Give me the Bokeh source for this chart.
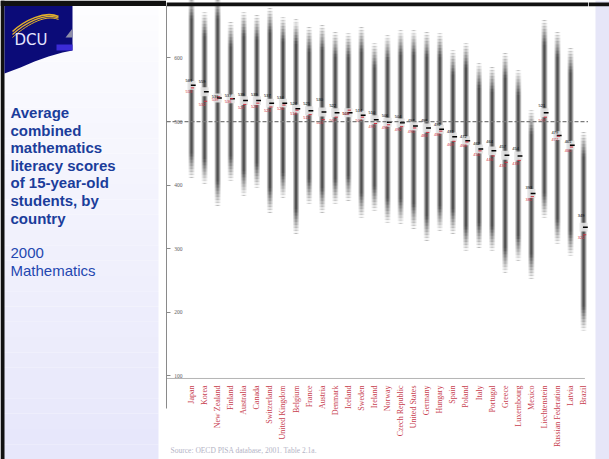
import numpy as np
from bokeh.plotting import figure
from bokeh.layouts import row
from bokeh.models import Range1d, FixedTicker, Span
from bokeh.embed import file_html
from bokeh.resources import INLINE
from bokeh.core.properties import value

# ---------------- data ----------------
countries = ["Japan", "Korea", "New Zealand", "Finland", "Australia", "Canada",
             "Switzerland", "United Kingdom", "Belgium", "France", "Austria",
             "Denmark", "Iceland", "Sweden", "Ireland", "Norway", "Czech Republic",
             "United States", "Germany", "Hungary", "Spain", "Poland", "Italy",
             "Portugal", "Greece", "Luxembourg", "Mexico", "Liechtenstein",
             "Russian Federation", "Latvia", "Brazil"]
mean_score = [557, 547, 537, 536, 533, 533, 529, 529, 520, 517, 515, 514, 514, 510,
              503, 499, 498, 493, 490, 488, 476, 470, 457, 454, 447, 446, 387, 514,
              478, 463, 334]
male_score = [561, 559, 536, 537, 539, 539, 537, 534, 524, 525, 530, 522, 508, 514,
              510, 506, 504, 497, 498, 492, 481, 472, 462, 464, 457, 454, 393, 521,
              479, 465, 349]
female_score = [553, 532, 539, 536, 527, 529, 523, 526, 518, 511, 503, 507, 518, 507,
                497, 495, 492, 490, 483, 485, 469, 468, 454, 446, 436, 439, 382, 507,
                477, 460, 322]
bar_top = [700, 672, 700, 656, 672, 667, 678, 664, 660, 648, 651, 640, 639, 648,
           623, 635, 643, 643, 640, 639, 612, 623, 591, 585, 607, 580, 518, 659,
           640, 615, 483]
bar_bottom = [412, 403, 368, 407, 384, 396, 357, 381, 324, 371, 357, 371, 376, 349,
              360, 341, 340, 332, 313, 329, 324, 297, 302, 297, 263, 282, 253, 349,
              308, 289, 171]
y_ticks = [100, 200, 300, 400, 500, 600]
reference_score = 500
title_lines = ["Average", "combined", "mathematics", "literacy scores",
               "of 15-year-old", "students, by", "country"]
sub_lines = ["2000", "Mathematics"]
source_text = "Source: OECD PISA database, 2001. Table 2.1a."

W, H = 609, 459
Y_TOP, Y_BOTTOM = 690.4, -31.3      # score range over the full height
X0, X1 = -1.913, 30.375              # category-index range over the frame
Y_AXIS_LINE = 96.1                   # score at the x-axis line
PX = H / (Y_TOP - Y_BOTTOM)          # px per score unit


def sy(py):
    """page y pixel -> score (for decoration only)"""
    return Y_TOP - py / PX


# ---------------- left panel ----------------
LW = 166
left = figure(width=LW, height=H, x_range=Range1d(0, LW), y_range=Range1d(H, 0),
              output_backend="svg", toolbar_location=None, min_border=0)
left.axis.visible = False
left.grid.visible = False
left.outline_line_color = None
left.background_fill_color = "white"
left.border_fill_color = "white"

nb = 30
edges = np.linspace(0, H, nb + 1)
cols = []
for k in range(nb):
    t = k / (nb - 1)
    cols.append("#%02x%02x%02x" % (int(253 - 22 * t), int(253 - 22 * t), int(255 - 4 * t)))
left.quad(left=[0] * nb, right=[158] * nb, top=list(edges[:-1]), bottom=list(edges[1:]),
          fill_color=cols, line_color=None)
# black frame of the slide
left.quad(left=[0], right=[4], top=[0], bottom=[H], fill_color="#111111", line_color=None)
left.quad(left=[0], right=[LW], top=[0], bottom=[5.5], fill_color="#111111", line_color=None)

# DCU logo
left.patch(x=[4, 72, 72, 62, 48, 34, 20, 4], y=[5.5, 5.5, 50, 52, 56, 61, 67, 73],
           fill_color="#0b0b78", line_color=None)
left.quad(left=[56], right=[72], top=[44], bottom=[50], fill_color="#3b2bd6", line_color=None)
left.patch(x=[65, 72, 72], y=[37, 28, 37], fill_color="#8e8ea8", line_color=None)
for dy, w in [(0, 1.6), (3, 1.2), (6, 1.0)]:
    left.bezier(x0=[12], y0=[31 + dy], x1=[58], y1=[16 + dy * 0.5],
                cx0=[24], cy0=[20 + dy], cx1=[44], cy1=[10 + dy * 0.5],
                line_color="#e2b02c", line_width=w)
left.text(x=[14], y=[39], text=["DCU"], text_font=value("DejaVu Sans"),
          text_font_size="15px", text_color="#e6e6ff", text_baseline="middle")

ty = [112 + 17.6 * k for k in range(len(title_lines))]
left.text(x=[10] * len(title_lines), y=ty, text=title_lines,
          text_font=value("Liberation Sans"), text_font_style="bold",
          text_font_size="15px", text_color="#1b3d9b", text_baseline="middle")
sy_lines = [112 + 17.6 * (len(title_lines) + 1 + k) for k in range(len(sub_lines))]
left.text(x=[10] * len(sub_lines), y=sy_lines, text=sub_lines,
          text_font=value("Liberation Sans"), text_font_size="15px",
          text_color="#2447b0", text_baseline="middle")

# ---------------- chart ----------------
n = len(countries)
xs = list(range(n))
CW = 422
p = figure(width=CW, height=H, x_range=Range1d(X0, X1), y_range=Range1d(Y_BOTTOM, Y_TOP),
           output_backend="svg", toolbar_location=None, min_border=0)
p.grid.visible = False
p.xaxis.visible = False
p.outline_line_color = None
p.background_fill_color = "white"
p.border_fill_color = "white"

# gray distribution bars
for lw, c in [(6, "#c2c2c2"), (4, "#868686"), (2, "#505050")]:
    p.segment(x0=xs, y0=bar_bottom, x1=xs, y1=bar_top, line_width=lw, line_color=c)

# fading ends
F = 38.0
steps = 8
fx, fy0, fy1, fa = [], [], [], []
for i in range(n):
    for k in range(steps):
        a = 1 - (k + 0.5) / steps
        fx.append(i); fy0.append(bar_bottom[i] + k * F / steps)
        fy1.append(bar_bottom[i] + (k + 1) * F / steps); fa.append(a)
        fx.append(i); fy0.append(bar_top[i] - (k + 1) * F / steps)
        fy1.append(bar_top[i] - k * F / steps); fa.append(a)
p.segment(x0=fx, y0=fy0, x1=fx, y1=fy1, line_width=8, line_color="white", line_alpha=fa,
          line_cap="butt")

# slide frame top band
p.quad(left=[X0], right=[X1], top=[sy(2)], bottom=[sy(5.8)], fill_color="#111111", line_color=None)

# 500 reference line
p.add_layout(Span(location=reference_score, dimension="width", line_color="#7a7a7a",
                  line_dash="4 2", line_width=1.3))

# mean markers
p.rect(x=xs, y=mean_score, width=0.62, height=14, fill_color="#e4e4e4", fill_alpha=0.9,
       line_color=None)
p.segment(x0=[x - 0.05 for x in xs], y0=mean_score, x1=[x + 0.32 for x in xs], y1=mean_score,
          line_color="black", line_width=1.5)
p.segment(x0=[x - 0.05 for x in xs], y0=female_score, x1=[x + 0.2 for x in xs], y1=female_score,
          line_color="#d03040", line_width=1)
p.text(x=[x - 0.45 for x in xs], y=[m + 4 for m in male_score], text=[str(v) for v in male_score],
       text_font=value("Liberation Sans"), text_font_size="4px", text_color="black",
       text_baseline="middle")
p.text(x=[x - 0.45 for x in xs], y=[f - 5 for f in female_score], text=[str(v) for v in female_score],
       text_font=value("Liberation Sans"), text_font_size="4px", text_color="#d03040",
       text_baseline="middle")

# y axis: labels sit to the right of the axis line
p.yaxis.ticker = FixedTicker(ticks=y_ticks)
p.yaxis.bounds = (sy(408), sy(5))
p.yaxis.major_label_standoff = -16
p.yaxis.major_label_text_font = "Liberation Serif"
p.yaxis.major_label_text_font_size = "5.5px"
p.yaxis.major_label_text_color = "#606060"
p.yaxis.major_tick_in = 4
p.yaxis.major_tick_out = 0
p.yaxis.minor_tick_line_color = None
p.yaxis.axis_line_color = "#8a8a8a"
p.yaxis.major_tick_line_color = "#8a8a8a"

# x axis line and country labels
p.segment(x0=[X0], y0=[Y_AXIS_LINE], x1=[30.1], y1=[Y_AXIS_LINE], line_color="#b4b4b4", line_width=1)
p.text(x=xs, y=[Y_AXIS_LINE - 7 / PX] * n, text=countries, angle=np.pi / 2,
       text_align="right", text_baseline="middle",
       text_font=value("Liberation Serif"), text_font_size="8px", text_color="#c8404f")

p.text(x=[-1.6], y=[sy(450)], text=[source_text], text_font=value("Liberation Serif"),
       text_font_size="7.5px", text_color="#b4b4c6", text_baseline="middle")

# ---------------- right strip ----------------
RW = W - LW - CW
strip = figure(width=RW, height=H, x_range=Range1d(LW + CW, W), y_range=Range1d(H, 0),
               output_backend="svg", toolbar_location=None, min_border=0)
strip.axis.visible = False
strip.grid.visible = False
strip.outline_line_color = None
strip.background_fill_color = "white"
strip.border_fill_color = "white"
strip.quad(left=[595], right=[W], top=[0], bottom=[H], fill_color="#e6e6f8", line_color=None)
strip.quad(left=[LW + CW], right=[W], top=[2], bottom=[5.8], fill_color="#111111", line_color=None)

layout = row(left, p, strip)
open("out.html", "w").write(file_html(layout, INLINE))
